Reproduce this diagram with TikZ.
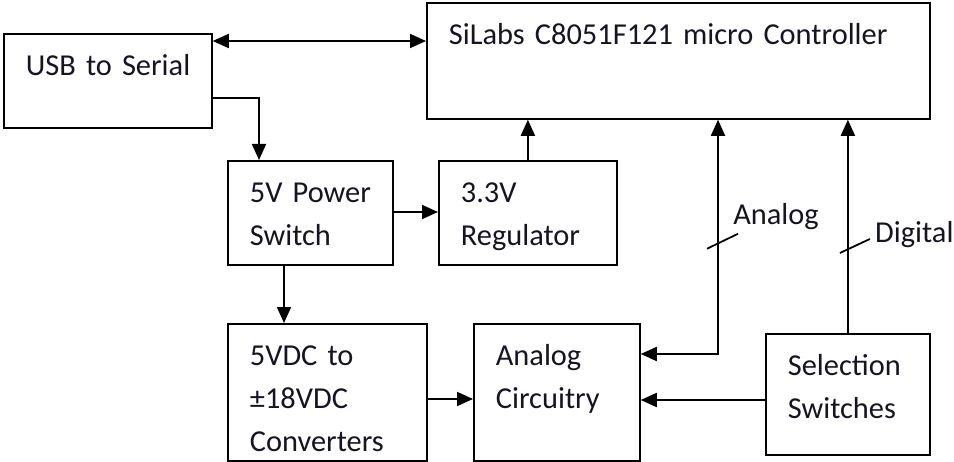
\documentclass[tikz,border=0pt]{standalone}
\usepackage{fontspec}
\setmainfont{Carlito}
\usetikzlibrary{arrows.meta,calc,positioning}
\definecolor{inkblack}{RGB}{20, 20, 35}

\begin{document}
\begin{tikzpicture}[>={Triangle[length=0.32cm, width=0.28cm]},
  font=\fontsize{17.3pt}{24.5pt}\selectfont,
  box/.style={draw, line width=1pt, anchor=north west, align=left,
              inner xsep=0.22cm, inner ysep=0pt, text height=0.83cm,
              text=inkblack, execute at begin node={\leftskip=0.22cm}},
  link/.style={line width=1pt, ->},
  bus/.style={line width=1pt},
  ]

% Picture frame
\useasboundingbox (0,0) rectangle (19.08,-9.24);

% ======================================================================
% TOP ROW: interface and controller
% ======================================================================
\node[box, text width=3.72cm, text depth=1.05cm]
  (usb) at (0.06,-0.66) {USB to Serial};

\node[box, text width=9.62cm, text depth=1.49cm]
  (silabs) at (8.52,-0.04) {SiLabs C8051F121 micro Controller};

% ======================================================================
% MIDDLE ROW: power
% ======================================================================
\node[box, text width=2.86cm, text depth=1.25cm]
  (power) at (4.54,-3.2) {5V Power\\Switch};

\node[box, text width=3.12cm, text depth=1.25cm]
  (reg) at (8.76,-3.2) {3.3V\\Regulator};

% ======================================================================
% BOTTOM ROW: converters, analog part, switches
% ======================================================================
\node[box, text width=3.54cm, text depth=1.91cm]
  (conv) at (4.54,-6.46) {5VDC to\\±18VDC\\Converters};

\node[box, text width=2.88cm, text depth=1.91cm]
  (analog) at (9.46,-6.46) {Analog\\Circuitry};

\node[box, text width=2.84cm, text depth=1.59cm]
  (sel) at (15.3,-6.66) {Selection\\Switches};

% ======================================================================
% Connectors
% ======================================================================
% serial link
\coordinate (usbio) at ([yshift=-0.16cm]usb.north east);
\draw[link, <->] (usbio) -- (usbio -| silabs.west);

% power path
\coordinate (usbout) at ([yshift=0.62cm]usb.south east);
\coordinate (pwrin) at ([xshift=0.64cm]power.north west);
\draw[link] (usbout) -| (pwrin);

\coordinate (pwrout) at ([yshift=-1.04cm]power.north east);
\draw[link] (pwrout) -- (pwrout -| reg.west);

\draw[link] (reg.north) -- (reg.north |- silabs.south);

\draw[link] ([xshift=1.14cm]power.south west)
  -- ([xshift=1.14cm]conv.north west);

\coordinate (convout) at ([yshift=-1.52cm]conv.north east);
\draw[link] (convout) -- (convout -| analog.west);

% analog bus
\coordinate (anbus) at ([xshift=5.84cm]silabs.south west);
\coordinate (anin) at ([yshift=-0.62cm]analog.north east);
\draw[link, <->] (anbus) |- (anin);
\coordinate (antick) at ([yshift=-2.48cm]anbus);
\draw[bus] (antick) ++(-0.22,-0.10) -- ++(0.62,0.30);
\node[anchor=base west, inner sep=0pt, text=inkblack]
  (anlabel) at ([shift={(0.30,0.38)}]antick) {Analog};

% digital bus
\draw[link] (sel.north) -- (sel.north |- silabs.south);
\coordinate (digtick) at ([yshift=1.66cm]sel.north);
\draw[bus] (digtick) ++(-0.16,-0.06) -- ++(0.60,0.28);
\node[anchor=base west, inner sep=0pt, text=inkblack]
  (diglabel) at ([shift={(0.54,0.16)}]digtick) {Digital};

% switch settings
\coordinate (selout) at ([yshift=-1.34cm]sel.north west);
\draw[link] (selout) -- (selout -| analog.east);

\end{tikzpicture}
\end{document}
